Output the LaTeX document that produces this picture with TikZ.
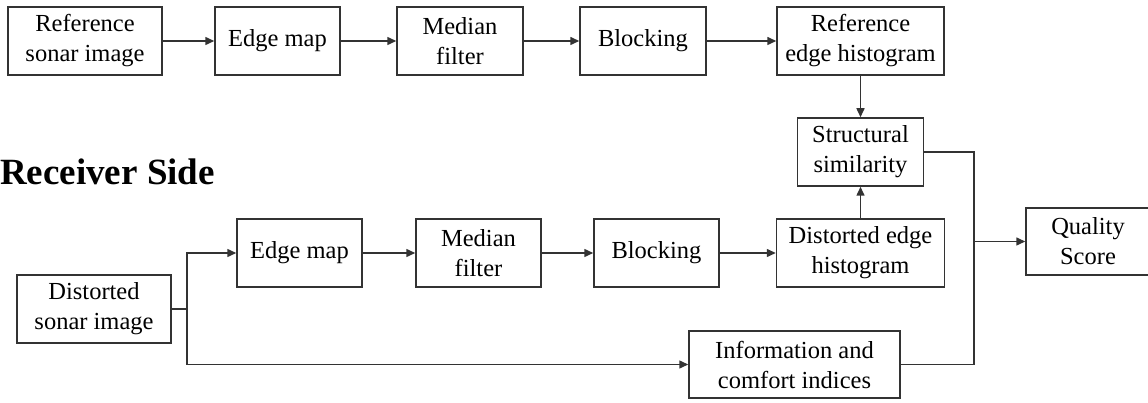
\documentclass[tikz,border=0pt]{standalone}
\usepackage{fontspec}
\setmainfont{Liberation Serif}
\usetikzlibrary{arrows.meta}
\begin{document}
\begin{tikzpicture}[x=1pt,y=-1pt,
  blk/.style={draw=black!80, line width=1.5pt, rectangle, inner sep=0pt, align=center,
    minimum height=68pt, font=\fontsize{24.5}{30}\selectfont},
  conn/.style={draw=black!80, line width=1.5pt},
  arr/.style={conn, -{Triangle[length=9pt,width=8pt]}}]
\useasboundingbox (0,0) rectangle (1148,403);
% top row
\node[blk, minimum width=154pt] (ref) at (85,41) {Reference\\sonar image};
\node[blk, minimum width=125pt] (em1) at (277.5,41) {Edge map};
\node[blk, minimum width=126pt] (mf1) at (460,41) {Median\\filter};
\node[blk, minimum width=126pt] (bl1) at (643,41) {Blocking};
\node[blk, minimum width=167pt] (reh) at (860.5,41) {Reference\\edge histogram};
\node[blk, minimum width=126pt] (ss) at (860.5,152) {Structural\\similarity};
% label
\node[anchor=base west, inner sep=0pt, font=\fontsize{37}{40}\selectfont\bfseries] (rs) at (0,185) {Receiver Side};
% bottom rows
\node[blk, minimum width=154pt] (dsi) at (94,309) {Distorted\\sonar image};
\node[blk, minimum width=125pt] (em2) at (299.5,253) {Edge map};
\node[blk, minimum width=125pt] (mf2) at (478.5,253) {Median\\filter};
\node[blk, minimum width=125pt] (bl2) at (656.5,253) {Blocking};
\node[blk, minimum width=168pt] (deh) at (860.5,253) {Distorted edge\\histogram};
\node[blk, minimum width=211pt, minimum height=67pt] (info) at (794.5,364.5) {Information and\\comfort indices};
\node[blk, minimum width=124pt, minimum height=67pt] (qs) at (1088,241.5) {Quality\\Score};
% coordinates
\coordinate (j1) at (187,309);
\coordinate (j2) at (974,241.5);
% connectors top
\draw[arr] (ref) -- (em1);
\draw[arr] (em1) -- (mf1);
\draw[arr] (mf1) -- (bl1);
\draw[arr] (bl1) -- (reh);
\draw[arr] (reh) -- (ss);
% connectors bottom
\draw[conn, line width=2.2pt] (dsi.east) -- (j1);
\draw[arr] (j1) |- (em2.west);
\draw[arr] (j1) |- (info.west);
\draw[arr] (em2) -- (mf2);
\draw[arr] (mf2) -- (bl2);
\draw[arr] (bl2) -- (deh);
\draw[arr] (deh) -- (ss);
\draw[conn] (ss.east) -| (j2);
\draw[conn] (info.east) -| (j2);
\draw[arr] (j2) -- (qs.west);
\end{tikzpicture}
\end{document}
